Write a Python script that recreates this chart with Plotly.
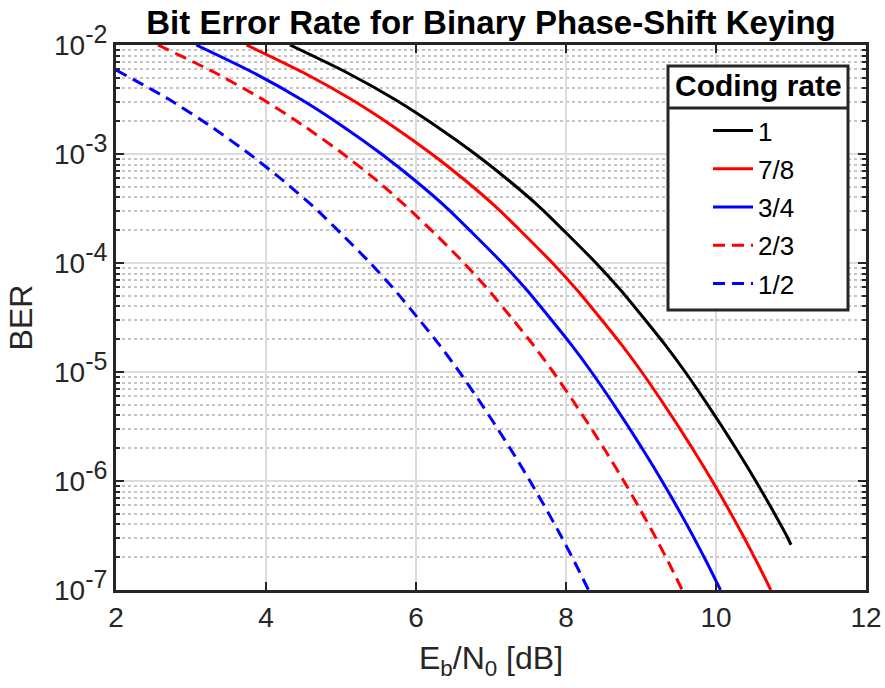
import plotly.graph_objects as go

# ---- data (Eb/N0 in dB, BER) ----
ber_levels = [1e-2, 5.62e-3, 3.16e-3, 1.78e-3,
              1e-3, 5.62e-4, 3.16e-4, 1.78e-4,
              1e-4, 5.62e-5, 3.16e-5, 1.78e-5,
              1e-5, 5.62e-6, 3.16e-6, 1.78e-6,
              1e-6, 5.62e-7, 3.16e-7, 1.78e-7, 1e-7]

x_r1 = [4.32, 5.07, 5.72, 6.28, 6.79, 7.25, 7.67, 8.04, 8.40, 8.73, 9.03,
        9.32, 9.59, 9.84, 10.08, 10.31, 10.53, 10.74, 10.94, 11.0]
y_r1 = [1e-2, 5.62e-3, 3.16e-3, 1.78e-3,
        1e-3, 5.62e-4, 3.16e-4, 1.78e-4,
        1e-4, 5.62e-5, 3.16e-5, 1.78e-5,
        1e-5, 5.62e-6, 3.16e-6, 1.78e-6,
        1e-6, 5.62e-7, 3.16e-7, 2.6e-7]

x_r78 = [3.74, 4.49, 5.14, 5.70, 6.21, 6.67, 7.09, 7.46, 7.82, 8.15, 8.45,
         8.74, 9.01, 9.26, 9.50, 9.73, 9.95, 10.16, 10.36, 10.55, 10.73]

x_r34 = [3.07, 3.82, 4.47, 5.03, 5.54, 6.00, 6.42, 6.79, 7.15, 7.48, 7.78,
         8.07, 8.34, 8.59, 8.83, 9.06, 9.28, 9.49, 9.69, 9.88, 10.06]

x_r23 = [2.56, 3.31, 3.96, 4.52, 5.03, 5.49, 5.90, 6.28, 6.64, 6.97, 7.27,
         7.56, 7.83, 8.08, 8.32, 8.55, 8.77, 8.98, 9.18, 9.37, 9.55]

x_r12 = [2.00, 2.71, 3.27, 3.78, 4.24, 4.66, 5.03, 5.39, 5.72, 6.02,
         6.31, 6.58, 6.83, 7.07, 7.30, 7.52, 7.73, 7.93, 8.12, 8.30]
y_r12 = [5.9e-3, 3.16e-3, 1.78e-3,
         1e-3, 5.62e-4, 3.16e-4, 1.78e-4,
         1e-4, 5.62e-5, 3.16e-5, 1.78e-5,
         1e-5, 5.62e-6, 3.16e-6, 1.78e-6,
         1e-6, 5.62e-7, 3.16e-7, 1.78e-7, 1e-7]

series_names = ["1", "7/8", "3/4", "2/3", "1/2"]
legend_title = "Coding rate"
x_ticks = [2, 4, 6, 8, 10, 12]
y_ticks = [1e-7, 1e-6, 1e-5, 1e-4, 1e-3, 1e-2]
y_exponents = ["-7", "-6", "-5", "-4", "-3", "-2"]
y_minor = [m * 10.0 ** e for e in range(-7, -2) for m in range(2, 10)]

FONT = "Liberation Sans, Arial, sans-serif"
DASH = "12px,7px"

styles = [
    dict(color="#000000", dash="solid"),
    dict(color="#FF0000", dash="solid"),
    dict(color="#0000FF", dash="solid"),
    dict(color="#FF0000", dash=DASH),
    dict(color="#0000FF", dash=DASH),
]
xs = [x_r1, x_r78, x_r34, x_r23, x_r12]
ys = [y_r1, ber_levels, ber_levels, ber_levels, y_r12]

fig = go.Figure()
for i, name in enumerate(series_names):
    fig.add_trace(go.Scatter(
        x=xs[i], y=ys[i], mode="lines", name=name, legendgroup=name,
        line=dict(color=styles[i]["color"], dash=styles[i]["dash"], width=3,
                  shape="spline", smoothing=0.6),
    ))

axis_common = dict(
    showline=True, linecolor="#262626", linewidth=3, mirror="allticks",
    ticks="inside", tickcolor="#262626", tickwidth=2, ticklen=8,
    tickfont=dict(family=FONT, size=28, color="#262626"),
    zeroline=False, automargin=False,
)

fig.update_xaxes(
    range=[2, 12], tickmode="array", tickvals=x_ticks,
    ticktext=[str(t) for t in x_ticks],
    showgrid=True, gridcolor="#dcdcdc", gridwidth=2,
    title=dict(text="E<sub>b</sub>/N<sub>0</sub> [dB]",
               font=dict(family=FONT, size=32, color="#262626"), standoff=16),
    **axis_common,
)
fig.update_yaxes(
    type="log", range=[-7, -2], tickmode="array", tickvals=y_ticks,
    ticktext=["10<sup><span style='font-size:25px'>%s</span></sup>" % e
              for e in y_exponents],
    showgrid=True, gridcolor="#dcdcdc", gridwidth=2,
    minor=dict(tickmode="array", tickvals=y_minor, ticks="inside", ticklen=4,
               tickcolor="#262626", tickwidth=2, showgrid=True,
               gridcolor="#c4c4c4", gridwidth=2, griddash="3px,3px"),
    title=dict(text="BER", font=dict(family=FONT, size=32, color="#262626"),
               standoff=12),
    **axis_common,
)

# legend frame (paper coords of the plot area)
LX0, LX1 = 0.736, 0.976
LY1, LY0 = 0.9615, 0.5138
SEP_Y = 0.8844
TITLE_Y = 0.925

fig.update_layout(
    width=885, height=688,
    margin=dict(l=116, r=19, t=45, b=98),
    paper_bgcolor="white", plot_bgcolor="white",
    title=dict(text="<b>Bit Error Rate for Binary Phase-Shift Keying</b>",
               font=dict(family=FONT, size=33, color="#000000"),
               x=(116 + 866) / 2 / 885, xanchor="center", y=0.967, yanchor="middle"),
    legend=dict(
        x=LX0, xanchor="left", y=0.8862, yanchor="top",
        bgcolor="rgba(0,0,0,0)", borderwidth=0,
        font=dict(family=FONT, size=26, color="#000000"),
        tracegroupgap=1.5, itemwidth=40, indentation=40,
    ),
    showlegend=True,
    shapes=[
        dict(type="rect", xref="paper", yref="paper", layer="above",
             x0=LX0, x1=LX1, y0=LY0, y1=LY1, fillcolor="white",
             line=dict(color="#262626", width=3)),
        dict(type="rect", xref="paper", yref="paper", layer="above",
             x0=LX0, x1=LX1, y0=SEP_Y - 0.0028, y1=SEP_Y + 0.0028,
             fillcolor="#262626", line=dict(width=0)),
    ],
    annotations=[
        dict(text="<b>%s</b>" % legend_title, xref="paper", yref="paper",
             x=(LX0 + LX1) / 2, y=TITLE_Y, xanchor="center", yanchor="middle",
             showarrow=False, font=dict(family=FONT, size=30, color="#000000")),
    ],
)

fig.write_html("out.html")
